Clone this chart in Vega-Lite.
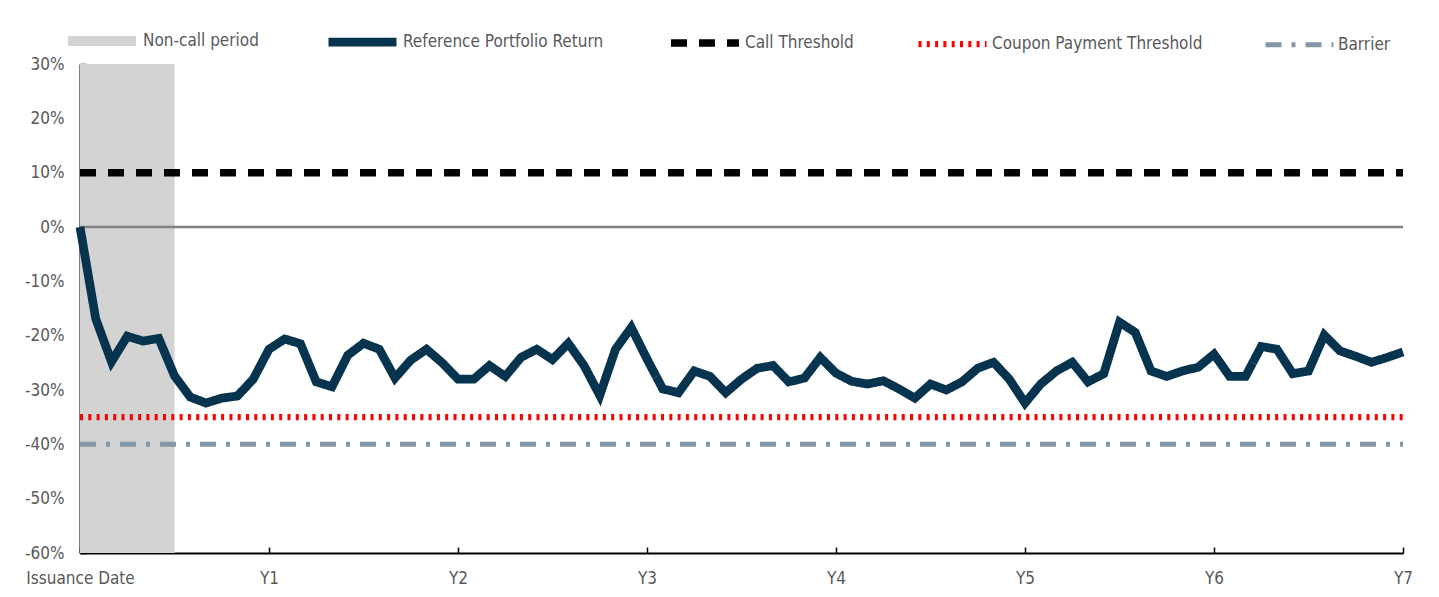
{
  "$schema": "https://vega.github.io/schema/vega-lite/v6.json",
  "width": 1323,
  "height": 489,
  "autosize": {"type": "none"},
  "padding": {"left": 80, "top": 64, "right": 36, "bottom": 44},
  "background": "white",
  "config": {"font": "DejaVu Sans Condensed, DejaVu Sans", "view": {"stroke": null}},
  "datasets": {
    "noncall": [{"start": 0, "end": 6, "top": 30, "bottom": -60}],
    "zero": [{"v": 0}],
    "lines": [
      {"series": "Call Threshold", "m": 0, "v": 10},
      {"series": "Call Threshold", "m": 84, "v": 10},
      {"series": "Coupon Payment Threshold", "m": 0, "v": -35},
      {"series": "Coupon Payment Threshold", "m": 84, "v": -35},
      {"series": "Barrier", "m": 0, "v": -40},
      {"series": "Barrier", "m": 84, "v": -40},
      {"series": "Reference Portfolio Return", "m": 0, "v": 0},
      {"series": "Reference Portfolio Return", "m": 1, "v": -16.9},
      {"series": "Reference Portfolio Return", "m": 2, "v": -24.8},
      {"series": "Reference Portfolio Return", "m": 3, "v": -20.1},
      {"series": "Reference Portfolio Return", "m": 4, "v": -21.0},
      {"series": "Reference Portfolio Return", "m": 5, "v": -20.5},
      {"series": "Reference Portfolio Return", "m": 6, "v": -27.4},
      {"series": "Reference Portfolio Return", "m": 7, "v": -31.3},
      {"series": "Reference Portfolio Return", "m": 8, "v": -32.4},
      {"series": "Reference Portfolio Return", "m": 9, "v": -31.5},
      {"series": "Reference Portfolio Return", "m": 10, "v": -31.1},
      {"series": "Reference Portfolio Return", "m": 11, "v": -28.0},
      {"series": "Reference Portfolio Return", "m": 12, "v": -22.5},
      {"series": "Reference Portfolio Return", "m": 13, "v": -20.6},
      {"series": "Reference Portfolio Return", "m": 14, "v": -21.5},
      {"series": "Reference Portfolio Return", "m": 15, "v": -28.5},
      {"series": "Reference Portfolio Return", "m": 16, "v": -29.4},
      {"series": "Reference Portfolio Return", "m": 17, "v": -23.6},
      {"series": "Reference Portfolio Return", "m": 18, "v": -21.4},
      {"series": "Reference Portfolio Return", "m": 19, "v": -22.5},
      {"series": "Reference Portfolio Return", "m": 20, "v": -27.8},
      {"series": "Reference Portfolio Return", "m": 21, "v": -24.5},
      {"series": "Reference Portfolio Return", "m": 22, "v": -22.5},
      {"series": "Reference Portfolio Return", "m": 23, "v": -25.0},
      {"series": "Reference Portfolio Return", "m": 24, "v": -28.0},
      {"series": "Reference Portfolio Return", "m": 25, "v": -28.0},
      {"series": "Reference Portfolio Return", "m": 26, "v": -25.5},
      {"series": "Reference Portfolio Return", "m": 27, "v": -27.5},
      {"series": "Reference Portfolio Return", "m": 28, "v": -24.0},
      {"series": "Reference Portfolio Return", "m": 29, "v": -22.5},
      {"series": "Reference Portfolio Return", "m": 30, "v": -24.4},
      {"series": "Reference Portfolio Return", "m": 31, "v": -21.4},
      {"series": "Reference Portfolio Return", "m": 32, "v": -25.5},
      {"series": "Reference Portfolio Return", "m": 33, "v": -31.0},
      {"series": "Reference Portfolio Return", "m": 34, "v": -22.5},
      {"series": "Reference Portfolio Return", "m": 35, "v": -18.5},
      {"series": "Reference Portfolio Return", "m": 36, "v": -24.3},
      {"series": "Reference Portfolio Return", "m": 37, "v": -29.8},
      {"series": "Reference Portfolio Return", "m": 38, "v": -30.5},
      {"series": "Reference Portfolio Return", "m": 39, "v": -26.5},
      {"series": "Reference Portfolio Return", "m": 40, "v": -27.5},
      {"series": "Reference Portfolio Return", "m": 41, "v": -30.5},
      {"series": "Reference Portfolio Return", "m": 42, "v": -28.0},
      {"series": "Reference Portfolio Return", "m": 43, "v": -26.0},
      {"series": "Reference Portfolio Return", "m": 44, "v": -25.5},
      {"series": "Reference Portfolio Return", "m": 45, "v": -28.5},
      {"series": "Reference Portfolio Return", "m": 46, "v": -27.8},
      {"series": "Reference Portfolio Return", "m": 47, "v": -24.0},
      {"series": "Reference Portfolio Return", "m": 48, "v": -26.9},
      {"series": "Reference Portfolio Return", "m": 49, "v": -28.4},
      {"series": "Reference Portfolio Return", "m": 50, "v": -28.9},
      {"series": "Reference Portfolio Return", "m": 51, "v": -28.3},
      {"series": "Reference Portfolio Return", "m": 52, "v": -29.8},
      {"series": "Reference Portfolio Return", "m": 53, "v": -31.5},
      {"series": "Reference Portfolio Return", "m": 54, "v": -28.9},
      {"series": "Reference Portfolio Return", "m": 55, "v": -30.0},
      {"series": "Reference Portfolio Return", "m": 56, "v": -28.5},
      {"series": "Reference Portfolio Return", "m": 57, "v": -26.0},
      {"series": "Reference Portfolio Return", "m": 58, "v": -24.9},
      {"series": "Reference Portfolio Return", "m": 59, "v": -28.0},
      {"series": "Reference Portfolio Return", "m": 60, "v": -32.4},
      {"series": "Reference Portfolio Return", "m": 61, "v": -28.9},
      {"series": "Reference Portfolio Return", "m": 62, "v": -26.5},
      {"series": "Reference Portfolio Return", "m": 63, "v": -24.9},
      {"series": "Reference Portfolio Return", "m": 64, "v": -28.5},
      {"series": "Reference Portfolio Return", "m": 65, "v": -27.0},
      {"series": "Reference Portfolio Return", "m": 66, "v": -17.5},
      {"series": "Reference Portfolio Return", "m": 67, "v": -19.4},
      {"series": "Reference Portfolio Return", "m": 68, "v": -26.5},
      {"series": "Reference Portfolio Return", "m": 69, "v": -27.5},
      {"series": "Reference Portfolio Return", "m": 70, "v": -26.5},
      {"series": "Reference Portfolio Return", "m": 71, "v": -25.8},
      {"series": "Reference Portfolio Return", "m": 72, "v": -23.4},
      {"series": "Reference Portfolio Return", "m": 73, "v": -27.5},
      {"series": "Reference Portfolio Return", "m": 74, "v": -27.5},
      {"series": "Reference Portfolio Return", "m": 75, "v": -22.0},
      {"series": "Reference Portfolio Return", "m": 76, "v": -22.5},
      {"series": "Reference Portfolio Return", "m": 77, "v": -27.0},
      {"series": "Reference Portfolio Return", "m": 78, "v": -26.5},
      {"series": "Reference Portfolio Return", "m": 79, "v": -19.9},
      {"series": "Reference Portfolio Return", "m": 80, "v": -22.8},
      {"series": "Reference Portfolio Return", "m": 81, "v": -23.8},
      {"series": "Reference Portfolio Return", "m": 82, "v": -24.9},
      {"series": "Reference Portfolio Return", "m": 83, "v": -24.0},
      {"series": "Reference Portfolio Return", "m": 84, "v": -23.0}
    ]
  },
  "layer": [
    {
      "data": {"name": "noncall"},
      "mark": {"type": "rect", "color": "#D3D3D3"},
      "encoding": {
        "x": {
          "field": "start", "type": "quantitative",
          "scale": {"domain": [0, 84], "nice": false, "zero": false},
          "axis": {
            "values": [0, 12, 24, 36, 48, 60, 72, 84],
            "labelExpr": "datum.value == 0 ? 'Issuance Date' : 'Y' + (datum.value / 12)",
            "title": null, "grid": false,
            "domainColor": "#000000", "domainWidth": 2,
            "tickColor": "#000000", "tickSize": -6, "tickWidth": 1.5,
            "labelPadding": 23, "labelFontSize": 17, "labelColor": "#595959",
            "labelFlush": false, "labelOverlap": false
          }
        },
        "x2": {"field": "end"},
        "y": {
          "field": "top", "type": "quantitative",
          "scale": {"domain": [-60, 30], "nice": false, "zero": false},
          "axis": {
            "values": [-60, -50, -40, -30, -20, -10, 0, 10, 20, 30],
            "labelExpr": "datum.value + '%'",
            "title": null, "grid": false,
            "domainColor": "#000000", "domainWidth": 2,
            "tickColor": "#000000", "tickSize": -6, "tickWidth": 1.5,
            "labelPadding": 22, "labelFontSize": 17, "labelColor": "#595959",
            "labelFlush": false, "labelOverlap": false
          }
        },
        "y2": {"field": "bottom"}
      }
    },
    {
      "data": {"name": "zero"},
      "mark": {"type": "rule", "color": "#808080", "strokeWidth": 2.5},
      "encoding": {"y": {"field": "v", "type": "quantitative"}}
    },
    {
      "data": {"name": "lines"},
      "mark": {"type": "line", "strokeJoin": "miter"},
      "encoding": {
        "x": {"field": "m", "type": "quantitative"},
        "y": {"field": "v", "type": "quantitative"},
        "color": {
          "field": "series", "type": "nominal",
          "scale": {
            "domain": ["Non-call period", "Reference Portfolio Return", "Call Threshold", "Coupon Payment Threshold", "Barrier"],
            "range": ["#D3D3D3", "#06344F", "#000000", "#FF0000", "#8497A8"]
          },
          "legend": {
            "orient": "none", "legendX": -17, "legendY": -62,
            "direction": "horizontal", "title": null,
            "symbolType": "stroke", "symbolSize": 4624,
            "labelFontSize": 17, "labelColor": "#595959",
            "labelOffset": 2, "columnPadding": 52, "labelLimit": 400
          }
        },
        "strokeDash": {
          "field": "series", "type": "nominal",
          "scale": {
            "domain": ["Non-call period", "Reference Portfolio Return", "Call Threshold", "Coupon Payment Threshold", "Barrier"],
            "range": [[1, 0], [1, 0], [16, 12], [3, 5.3], [16, 10, 4, 10]]
          }
        },
        "strokeWidth": {
          "field": "series", "type": "nominal",
          "scale": {
            "domain": ["Non-call period", "Reference Portfolio Return", "Call Threshold", "Coupon Payment Threshold", "Barrier"],
            "range": [10, 5, 3, 3, 3.5]
          }
        }
      }
    }
  ]
}
